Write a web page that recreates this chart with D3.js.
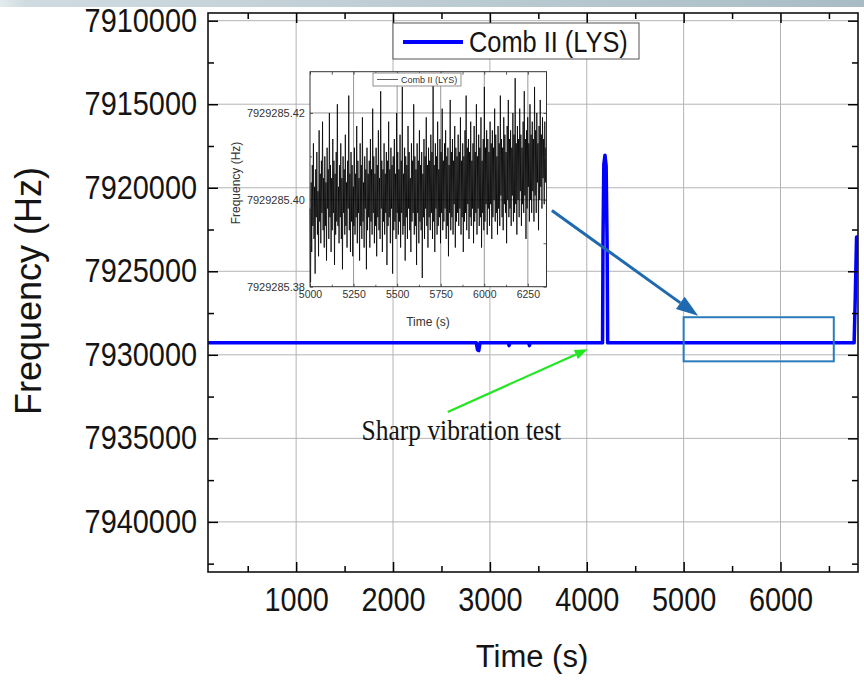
<!DOCTYPE html>
<html><head><meta charset="utf-8">
<script src="https://cdn.jsdelivr.net/npm/d3@7"></script>
<style>body{margin:0;background:#fff}svg{display:block}</style>
</head><body>
<svg id="c" width="864" height="682"></svg>
<script>
// ---------- DATA ----------
const mainTimes  = [90, 2860, 2872, 2885, 2898, 3190, 3198, 3206, 3400, 3408, 3416, 4163, 4168, 4176, 4188, 4200, 4210, 4216, 6760, 6772, 6785, 6810];
const mainValues = [7929285, 7929285, 7929700, 7929750, 7929285, 7929285, 7929450, 7929285, 7929285, 7929450, 7929285, 7929285, 7923000, 7918600, 7918050, 7918700, 7923500, 7929285, 7929285, 7926500, 7922950, 7922950];
const xTicks = [1000, 2000, 3000, 4000, 5000, 6000];
const xMinorTicks = [500, 1500, 2500, 3500, 4500, 5500, 6500];
const yTicks = [7910000, 7915000, 7920000, 7925000, 7930000, 7935000, 7940000];
const yMinorTicks = [7912500, 7917500, 7922500, 7927500, 7932500, 7937500, 7942500];
const seriesName = "Comb II (LYS)";

const insetStart = 5000, insetEnd = 6357;
const insetValues = [
7929285.398,7929285.381,7929285.404,7929285.388,7929285.408,7929285.394,7929285.413,7929285.391,7929285.403,7929285.383,7929285.407,7929285.396,7929285.411,7929285.392,7929285.402,7929285.387,7929285.416,7929285.395,7929285.406,7929285.390,7929285.409,7929285.397,7929285.418,7929285.393,7929285.405,7929285.389,
7929285.410,7929285.394,7929285.404,7929285.386,7929285.412,7929285.398,7929285.407,7929285.391,7929285.420,7929285.396,7929285.408,7929285.388,7929285.405,7929285.393,7929285.414,7929285.397,7929285.409,7929285.385,7929285.406,7929285.392,7929285.411,7929285.395,7929285.422,7929285.394,7929285.403,7929285.390,
7929285.408,7929285.396,7929285.413,7929285.391,7929285.405,7929285.384,7929285.410,7929285.397,7929285.407,7929285.392,7929285.415,7929285.394,7929285.404,7929285.389,7929285.409,7929285.398,7929285.424,7929285.393,7929285.406,7929285.388,7929285.411,7929285.395,7929285.408,7929285.387,7929285.403,7929285.394,
7929285.412,7929285.392,7929285.406,7929285.396,7929285.417,7929285.390,7929285.409,7929285.397,7929285.405,7929285.386,7929285.413,7929285.394,7929285.408,7929285.391,7929285.419,7929285.395,7929285.404,7929285.389,7929285.410,7929285.398,7929285.407,7929285.384,7929285.412,7929285.393,7929285.406,7929285.396,
7929285.409,7929285.389,7929285.414,7929285.395,7929285.407,7929285.392,7929285.421,7929285.397,7929285.410,7929285.390,7929285.406,7929285.394,7929285.412,7929285.387,7929285.408,7929285.396,7929285.416,7929285.393,7929285.405,7929285.391,7929285.425,7929285.398,7929285.409,7929285.388,7929285.407,7929285.395,
7929285.413,7929285.392,7929285.406,7929285.397,7929285.411,7929285.385,7929285.409,7929285.394,7929285.418,7929285.396,7929285.407,7929285.390,7929285.412,7929285.398,7929285.408,7929285.383,7929285.410,7929285.393,7929285.414,7929285.395,7929285.406,7929285.391,7929285.420,7929285.397,7929285.411,7929285.392,
7929285.407,7929285.395,7929285.415,7929285.389,7929285.409,7929285.397,7929285.426,7929285.392,7929285.406,7929285.394,7929285.412,7929285.386,7929285.410,7929285.396,7929285.408,7929285.391,7929285.417,7929285.398,7929285.411,7929285.393,7929285.405,7929285.388,7929285.413,7929285.395,7929285.409,7929285.397,
7929285.422,7929285.392,7929285.410,7929285.394,7929285.407,7929285.385,7929285.413,7929285.397,7929285.409,7929285.390,7929285.416,7929285.395,7929285.408,7929285.393,7929285.411,7929285.382,7929285.406,7929285.396,7929285.414,7929285.391,7929285.410,7929285.398,7929285.419,7929285.394,7929285.408,7929285.389,
7929285.412,7929285.396,7929285.409,7929285.393,7929285.415,7929285.397,7929285.411,7929285.391,7929285.427,7929285.395,7929285.408,7929285.388,7929285.413,7929285.398,7929285.410,7929285.392,7929285.418,7929285.394,7929285.407,7929285.396,7929285.414,7929285.390,7929285.411,7929285.397,7929285.421,7929285.393,
7929285.409,7929285.395,7929285.413,7929285.398,7929285.416,7929285.391,7929285.410,7929285.394,7929285.412,7929285.387,7929285.408,7929285.397,7929285.423,7929285.393,7929285.411,7929285.396,7929285.414,7929285.392,7929285.409,7929285.399,7929285.417,7929285.389,7929285.412,7929285.395,7929285.410,7929285.397,
7929285.415,7929285.394,7929285.411,7929285.398,7929285.419,7929285.392,7929285.409,7929285.396,7929285.413,7929285.388,7929285.410,7929285.395,7929285.416,7929285.397,7929285.424,7929285.393,7929285.412,7929285.399,7929285.414,7929285.391,7929285.411,7929285.396,7929285.418,7929285.394,7929285.409,7929285.398,
7929285.413,7929285.390,7929285.417,7929285.395,7929285.411,7929285.397,7929285.422,7929285.392,7929285.410,7929285.398,7929285.415,7929285.394,7929285.412,7929285.396,7929285.419,7929285.389,7929285.409,7929285.397,7929285.414,7929285.393,7929285.426,7929285.395,7929285.412,7929285.399,7929285.416,7929285.392,
7929285.414,7929285.398,7929285.411,7929285.394,7929285.418,7929285.399,7929285.413,7929285.391,7929285.416,7929285.396,7929285.412,7929285.400,7929285.421,7929285.395,7929285.415,7929285.397,7929285.410,7929285.392,7929285.417,7929285.398,7929285.413,7929285.394,7929285.424,7929285.401,7929285.414,7929285.396,
7929285.412,7929285.393,7929285.419,7929285.399,7929285.415,7929285.397,7929285.411,7929285.390,7929285.417,7929285.400,7929285.423,7929285.396,7929285.414,7929285.398,7929285.416,7929285.394,7929285.412,7929285.401,7929285.420,7929285.395,7929285.415,7929285.397,7929285.428,7929285.399,7929285.413,7929285.392,
7929285.417,7929285.400,7929285.414,7929285.396,7929285.421,7929285.402,7929285.415,7929285.394,7929285.412,7929285.399,7929285.418,7929285.397,7929285.425,7929285.401,7929285.414,7929285.391,7929285.416,7929285.398,7929285.419,7929285.403,7929285.413,7929285.395,7929285.422,7929285.400,7929285.415,7929285.397,
7929285.418,7929285.402,7929285.414,7929285.395,7929285.426,7929285.401,7929285.416,7929285.397,7929285.420,7929285.404,7929285.413,7929285.393,7929285.417,7929285.400,7929285.423,7929285.403,7929285.415,7929285.398,7929285.419,7929285.405,7929285.414,7929285.399,7929285.418,7929285.404,7929285.412,7929285.407
];
const insetXTicks = [5000, 5250, 5500, 5750, 6000, 6250];
const insetXMinor = [5125, 5375, 5625, 5875, 6125];
const insetYTicks = [7929285.38, 7929285.40, 7929285.42];
const insetYMinor = [7929285.39, 7929285.41];

// annotations (data coordinates of the main chart)
const boxCorners = [[5000, 7927750], [6550, 7930390]];
const blueArrow = [[3640, 7921360], [5150, 7927660]];
const greenArrow = [[2565, 7933420], [4010, 7929660]];
const noteText = "Sharp vibration test";
const notePos = [1675, 7935120];

// ---------- DRAW ----------
const svg = d3.select("#c");
const L = 208, R = 858, T = 13, B = 572;
const x = d3.scaleLinear([90, 6800], [L, R]);
const y = d3.scaleLinear([7909540, 7943000], [T, B]);
const SX = 0.875; // horizontal squeeze of the reference lettering

// top banner strip
const defs = svg.append("defs");
const g0 = defs.append("linearGradient").attr("id", "band");
g0.append("stop").attr("offset", "0").attr("stop-color", "#e4ebee");
g0.append("stop").attr("offset", "0.03").attr("stop-color", "#cfdbe0");
g0.append("stop").attr("offset", "1").attr("stop-color", "#a9bcc5");
svg.append("rect").attr("x", 0).attr("y", 0).attr("width", 864).attr("height", 7).attr("fill", "url(#band)");

defs.append("clipPath").attr("id", "plotclip").append("rect")
  .attr("x", L).attr("y", T).attr("width", R - L).attr("height", B - T);

// grid
const grid = svg.append("g").attr("stroke", "#b4b4b4").attr("stroke-width", 1);
xTicks.forEach(v => grid.append("line").attr("x1", x(v)).attr("x2", x(v)).attr("y1", T).attr("y2", B));
yTicks.forEach(v => grid.append("line").attr("x1", L).attr("x2", R).attr("y1", y(v)).attr("y2", y(v)));

// main line
svg.append("path")
  .datum(mainTimes.map((t, i) => [t, mainValues[i]]))
  .attr("clip-path", "url(#plotclip)")
  .attr("fill", "none").attr("stroke", "#0000ff").attr("stroke-width", 3.5)
  .attr("stroke-linejoin", "round")
  .attr("d", d3.line().x(d => x(d[0])).y(d => y(d[1])));

// axes
const font = "'Liberation Sans', Arial, sans-serif";
function styleAxis(g) {
  g.select(".domain").remove();
  g.selectAll(".tick line").attr("stroke", "#000").attr("stroke-width", 1.5);
  g.selectAll("text").attr("font-family", font).attr("font-size", 33).attr("fill", "#141414")
    .attr("transform", `scale(${SX},1)`);
}
svg.append("g").attr("transform", `translate(${L},0)`)
  .call(d3.axisLeft(y).tickValues(yTicks).tickFormat(d3.format("d")).tickSizeInner(-10).tickSizeOuter(0).tickPadding(11 / SX))
  .call(styleAxis);
svg.append("g").attr("transform", `translate(${L},0)`)
  .call(d3.axisLeft(y).tickValues(yMinorTicks).tickFormat("").tickSizeInner(-6).tickSizeOuter(0)).call(styleAxis);
svg.append("g").attr("transform", `translate(${R},0)`)
  .call(d3.axisRight(y).tickValues(yTicks).tickFormat("").tickSizeInner(-10).tickSizeOuter(0)).call(styleAxis);
svg.append("g").attr("transform", `translate(${R},0)`)
  .call(d3.axisRight(y).tickValues(yMinorTicks).tickFormat("").tickSizeInner(-6).tickSizeOuter(0)).call(styleAxis);
svg.append("g").attr("transform", `translate(0,${B})`)
  .call(d3.axisBottom(x).tickValues(xTicks).tickFormat(d3.format("d")).tickSizeInner(-10).tickSizeOuter(0).tickPadding(16))
  .call(styleAxis);
svg.append("g").attr("transform", `translate(0,${B})`)
  .call(d3.axisBottom(x).tickValues(xMinorTicks).tickFormat("").tickSizeInner(-6).tickSizeOuter(0)).call(styleAxis);
svg.append("g").attr("transform", `translate(0,${T})`)
  .call(d3.axisTop(x).tickValues(xTicks).tickFormat("").tickSizeInner(-10).tickSizeOuter(0)).call(styleAxis);
svg.append("g").attr("transform", `translate(0,${T})`)
  .call(d3.axisTop(x).tickValues(xMinorTicks).tickFormat("").tickSizeInner(-6).tickSizeOuter(0)).call(styleAxis);

svg.append("rect").attr("x", L).attr("y", T).attr("width", R - L).attr("height", B - T)
  .attr("fill", "none").attr("stroke", "#111").attr("stroke-width", 1.6);

// axis titles
svg.append("text").attr("x", 532).attr("y", 667).attr("text-anchor", "middle")
  .attr("font-family", font).attr("font-size", 31).attr("fill", "#141414").text("Time (s)");
svg.append("text").attr("transform", "translate(41,291) rotate(-90)").attr("text-anchor", "middle")
  .attr("font-family", font).attr("font-size", 36).attr("fill", "#141414").text("Frequency (Hz)");

// main legend
const lg = svg.append("g");
lg.append("rect").attr("x", 393).attr("y", 23).attr("width", 246).attr("height", 36)
  .attr("fill", "#fff").attr("stroke", "#555").attr("stroke-width", 1);
lg.append("line").attr("x1", 403).attr("x2", 463).attr("y1", 42).attr("y2", 42)
  .attr("stroke", "#0000ff").attr("stroke-width", 4);
lg.append("text").attr("transform", `translate(469,52) scale(${SX},1)`).attr("font-family", font).attr("font-size", 29)
  .attr("fill", "#141414").text(seriesName);

// ---------- INSET ----------
const iL = 310, iR = 546.5, iT = 71.7, iB = 286.7;
const ix = d3.scaleLinear([insetStart, insetEnd], [iL, iR]);
const iy = d3.scaleLinear([7929285.38, 7929285.4295], [iB, iT]);
const ins = svg.append("g");
ins.append("rect").attr("x", iL).attr("y", iT).attr("width", iR - iL).attr("height", iB - iT).attr("fill", "#fff");
const ig = ins.append("g").attr("stroke", "#8c8c8c").attr("stroke-width", 0.9);
insetXTicks.slice(1).forEach(v => ig.append("line").attr("x1", ix(v)).attr("x2", ix(v)).attr("y1", iT).attr("y2", iB));
insetYTicks.slice(1).forEach(v => ig.append("line").attr("x1", iL).attr("x2", iR).attr("y1", iy(v)).attr("y2", iy(v)));
const step = (insetEnd - insetStart) / (insetValues.length - 1);
ins.append("path")
  .datum(insetValues.map((v, i) => [insetStart + i * step, v]))
  .attr("fill", "none").attr("stroke", "#000").attr("stroke-width", 0.8)
  .attr("d", d3.line().x(d => ix(d[0])).y(d => iy(d[1])));
function styleInset(size) {
  return g => {
    g.select(".domain").remove();
    g.selectAll(".tick line").attr("stroke", "#333").attr("stroke-width", 0.8);
    g.selectAll("text").attr("font-family", font).attr("font-size", size).attr("fill", "#333");
  };
}
ins.append("g").attr("transform", `translate(${iL},0)`)
  .call(d3.axisLeft(iy).tickValues(insetYTicks).tickFormat(d3.format(".2f")).tickSizeInner(-3).tickSizeOuter(0).tickPadding(5)).call(styleInset(11));
ins.append("g").attr("transform", `translate(${iL},0)`)
  .call(d3.axisLeft(iy).tickValues(insetYMinor).tickFormat("").tickSizeInner(-2).tickSizeOuter(0)).call(styleInset(11));
ins.append("g").attr("transform", `translate(${iR},0)`)
  .call(d3.axisRight(iy).tickValues(insetYTicks.concat(insetYMinor)).tickFormat("").tickSizeInner(-3).tickSizeOuter(0)).call(styleInset(11));
ins.append("g").attr("transform", `translate(0,${iB})`)
  .call(d3.axisBottom(ix).tickValues(insetXTicks).tickFormat(d3.format("d")).tickSizeInner(-3).tickSizeOuter(0).tickPadding(4)).call(styleInset(10.5));
ins.append("g").attr("transform", `translate(0,${iB})`)
  .call(d3.axisBottom(ix).tickValues(insetXMinor).tickFormat("").tickSizeInner(-2).tickSizeOuter(0)).call(styleInset(10));
ins.append("g").attr("transform", `translate(0,${iT})`)
  .call(d3.axisTop(ix).tickValues(insetXTicks.concat(insetXMinor)).tickFormat("").tickSizeInner(-3).tickSizeOuter(0)).call(styleInset(10));
ins.append("rect").attr("x", iL).attr("y", iT).attr("width", iR - iL).attr("height", iB - iT)
  .attr("fill", "none").attr("stroke", "#333").attr("stroke-width", 1);
ins.append("text").attr("x", 428).attr("y", 326).attr("text-anchor", "middle")
  .attr("font-family", font).attr("font-size", 12).attr("fill", "#333").text("Time (s)");
ins.append("text").attr("transform", "translate(240,183) rotate(-90)").attr("text-anchor", "middle")
  .attr("font-family", font).attr("font-size", 12).attr("fill", "#333").text("Frequency (Hz)");
ins.append("rect").attr("x", 373).attr("y", 73).attr("width", 88).attr("height", 13)
  .attr("fill", "#fff").attr("stroke", "#777").attr("stroke-width", 0.8);
ins.append("line").attr("x1", 377).attr("x2", 398).attr("y1", 79.5).attr("y2", 79.5)
  .attr("stroke", "#333").attr("stroke-width", 0.8);
ins.append("text").attr("x", 401).attr("y", 83).attr("font-family", font).attr("font-size", 9)
  .attr("fill", "#333").text(seriesName);

// ---------- ANNOTATIONS ----------
svg.append("rect")
  .attr("x", x(boxCorners[0][0])).attr("y", y(boxCorners[0][1]))
  .attr("width", x(boxCorners[1][0]) - x(boxCorners[0][0]))
  .attr("height", y(boxCorners[1][1]) - y(boxCorners[0][1]))
  .attr("fill", "none").attr("stroke", "#2b7bba").attr("stroke-width", 2);

function arrow(pts, color, width, headLen, headW) {
  const x1 = x(pts[0][0]), y1 = y(pts[0][1]), x2 = x(pts[1][0]), y2 = y(pts[1][1]);
  const a = Math.atan2(y2 - y1, x2 - x1);
  const bx = x2 - headLen * Math.cos(a), by = y2 - headLen * Math.sin(a);
  svg.append("line").attr("x1", x1).attr("y1", y1).attr("x2", bx).attr("y2", by)
    .attr("stroke", color).attr("stroke-width", width);
  const px = -Math.sin(a) * headW / 2, py = Math.cos(a) * headW / 2;
  svg.append("path").attr("d", `M${x2},${y2}L${bx + px},${by + py}L${bx - px},${by - py}Z`).attr("fill", color);
}
arrow(blueArrow, "#1f6aae", 3, 22, 15);
arrow(greenArrow, "#22e622", 2.2, 13, 10);

svg.append("text").attr("transform", `translate(${x(notePos[0])},${y(notePos[1])}) scale(0.85,1)`)
  .attr("font-family", "'Liberation Serif', 'Times New Roman', serif").attr("font-size", 30)
  .attr("fill", "#141414").text(noteText);
</script>
</body></html>
